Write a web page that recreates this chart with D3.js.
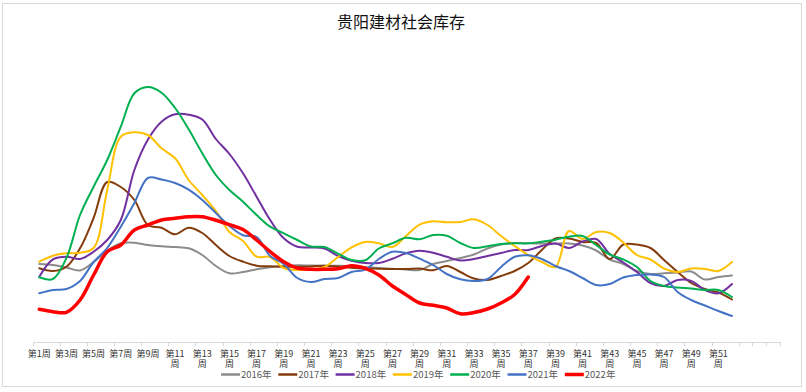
<!DOCTYPE html>
<html>
<head>
<meta charset="utf-8">
<script src="https://cdn.jsdelivr.net/npm/d3@7"></script>
<style>
body{margin:0;background:#fff;}
svg{display:block;font-family:"Noto Sans CJK SC","Noto Sans",sans-serif;}
</style>
</head>
<body>
<script>
// weeks on the category axis (55 slots, data runs to week 52)
var weeks = d3.range(1,56);
var years = ["2016年","2017年","2018年","2019年","2020年","2021年","2022年"];

var y2016 = [78,77,74.5,71.5,80,91.3,98.7,99.3,97,95.7,95,93.7,87,76,68.7,70,72.7,74.7,76,76.7,76.5,76.3,76.3,76,75,74,73.3,72.5,72,78,81,84,87.5,93.5,97.5,99,98.7,98.5,98.5,98.5,96.5,91.5,82.5,78,71,68,68.7,69.5,70.5,62.5,65,66.5];
var y2017 = [73.7,71,75.3,93.7,124,160,155,142,117,114.3,107.7,114.3,109,97,86,80.3,76.3,75.7,75.3,75.3,75.5,76.3,75.5,74.3,73.7,73.3,73,73,73.5,71.7,76,70,63.5,62,66,71,79,92,103.5,103.5,100,99,83,97.5,97.5,94,82,70,59,53,49.5,42.5];
var y2018 = [65.3,82.7,85.3,83,90.3,102,122,172,202.5,220.3,227.7,227.3,222.5,203,188,168.7,145.3,122,103.7,95.3,94.5,93.5,86,81.3,79,79,83.3,88.7,91.3,89.3,85.3,81.5,83,86,89,92,92,96,98.5,94,100.5,103,88,79.5,70,59,56,62,61,52,48.7,58];
var y2019 = [80.3,86.3,88.7,89.3,94,152,205.3,209.7,207,193.7,183.7,162,147,131,110,101,85.3,85,74,72,72.5,75,85,94.7,100,98.7,95,106,117.3,120.7,119.7,120,122.7,117,106,96,87,80,75,111,103,110,109,99.5,87,82.5,73.5,70,73.5,73,71,80];
var y2020 = [64.7,63,84,127,155.3,182,215.3,248.7,255,249.3,234,212.7,188.7,167,152,140.3,127,115.3,108.7,102,95.5,95,88.3,82,81.7,93.5,98.7,104.3,102.7,107,106.3,99,94,95.7,98,98.7,98.7,100.3,102.3,105.3,106,97,87.5,82.5,75,61,56,54.5,53.5,52,52,45];
var y2021 = [48.7,52,53,61,80,94,115.3,139,164,162.5,159,152.3,142,129,116,106.7,105,86,78,64,60,63,64,70,72.3,83,90.3,89,83.3,77,68,62.7,61,63,75,85.3,86.7,83,76,71,64,57,58,64.5,67,67.5,65,50,42,36.5,31,26];
var y2022 = [32.7,30.3,29.7,42,67,90.3,97,112,117,122,123.7,125.3,125.3,121.7,117.3,112.5,102,90.3,80.3,74,72.7,72.7,73.3,76.3,73.7,67,56,47.3,39,36.7,34,28.2,29.5,33,39,47.5,65];

var series = [y2016,y2017,y2018,y2019,y2020,y2021,y2022];
var colors = ["#8c8c8c","#843c0c","#7030a0","#ffc000","#00b050","#4472c4","#ff0000"];
var widths = [2,2,2,2,2,2,3.5];

var svg = d3.select("body").append("svg").attr("width",806).attr("height",392);

svg.append("rect")
  .attr("x",2.5).attr("y",3.5).attr("width",799).attr("height",383)
  .attr("fill","#fff").attr("stroke","#d9d9d9");

svg.append("text")
  .attr("x",401).attr("y",28)
  .attr("text-anchor","middle")
  .attr("font-size","16")
  .attr("fill","#111")
  .text("贵阳建材社会库存");

var x = d3.scaleBand().domain(weeks).range([32.5,779.5]);
var y = d3.scaleLinear().domain([0,300]).range([342,42]);

function cx(i){ return x(weeks[i]) + x.bandwidth()/2; }

// axis: only the line and tick marks, labels drawn by hand so they can wrap
var xAxis = d3.axisBottom(x).tickSize(0).tickFormat("");
var gx = svg.append("g").attr("transform","translate(0,342)").call(xAxis);
gx.select(".domain").attr("stroke","#d9d9d9");

var tickPos = d3.range(0,56).filter(function(i){return i%2==0 || i>=52;});
gx.selectAll("line.tk")
  .data(tickPos)
  .enter().append("line")
    .attr("class","tk")
    .attr("x1",function(d){return Math.round(x.range()[0] + d*x.step())+0.5;})
    .attr("x2",function(d){return Math.round(x.range()[0] + d*x.step())+0.5;})
    .attr("y1",0).attr("y2",4)
    .attr("stroke","#d9d9d9");

var lab = svg.append("g").selectAll("text")
  .data(weeks.filter(function(w){return w%2==1 && w<=51;}))
  .enter().append("text")
    .attr("text-anchor","middle")
    .attr("font-size","9")
    .attr("fill","#333");
lab.each(function(w){
  var t = d3.select(this);
  var px = x(w) + x.bandwidth()/2;
  if (w < 10) {
    t.append("tspan").attr("x",px).attr("y",356.5).text("第"+w+"周");
  } else {
    t.append("tspan").attr("x",px).attr("y",356.5).text("第"+w);
    t.append("tspan").attr("x",px).attr("y",366.5).text("周");
  }
});

var line = d3.line()
  .x(function(d,i){return cx(i);})
  .y(function(d){return y(d);})
  .curve(d3.curveCatmullRom.alpha(0.5));

svg.selectAll("path.s")
  .data(series)
  .enter().append("path")
    .attr("class","s")
    .attr("fill","none")
    .attr("stroke",function(d,i){return colors[i];})
    .attr("stroke-width",function(d,i){return widths[i];})
    .attr("stroke-linejoin","round")
    .attr("stroke-linecap","round")
    .attr("d",line);

// legend along the bottom
var leg = svg.append("g").selectAll("g")
  .data(years)
  .enter().append("g")
    .attr("transform",function(d,i){return "translate("+(221+i*57.3)+",374.5)";});
leg.append("line")
  .attr("x1",0).attr("x2",19)
  .attr("stroke",function(d,i){return colors[i];})
  .attr("stroke-width",function(d,i){return i==6 ? 3.5 : 2.5;});
leg.append("text")
  .attr("x",20).attr("y",3.5)
  .attr("font-size","9.5")
  .attr("fill","#595959")
  .text(function(d){return d;});
</script>
</body>
</html>
